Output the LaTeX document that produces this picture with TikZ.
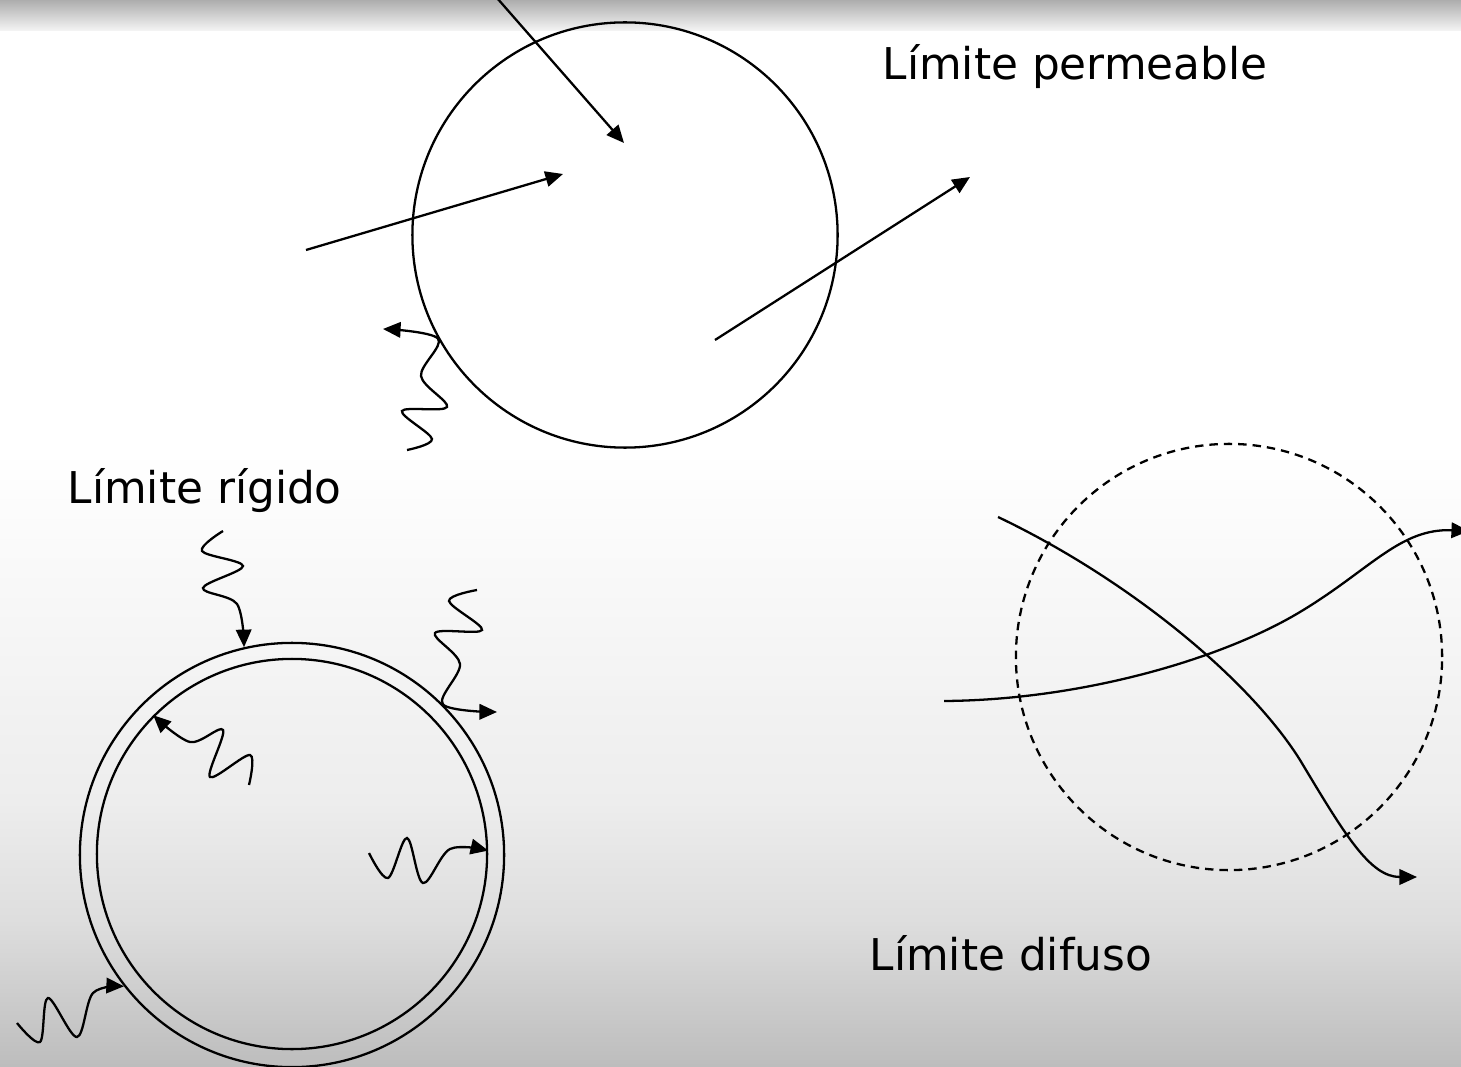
\documentclass[tikz,border=0pt]{standalone}
\usepackage{fontspec}
\setmainfont{DejaVu Sans}
\usepackage{tikz}
\usetikzlibrary{positioning,calc,arrows.meta}
\definecolor{bandgray}{gray}{0.68}
\definecolor{lowgray}{gray}{0.74}
\tikzset{BOUNDARY/.style={circle,draw,line width=0.65pt,inner sep=0pt}}
\tikzset{DIFFUSE/.style={BOUNDARY,dash pattern=on 2.4pt off 1.7pt}}
\tikzset{ARROW/.style={line width=0.65pt,-{Triangle[length=5pt,width=4.4pt]}}}
\tikzset{WAVE/.style={ARROW,smooth,tension=0.55}}
\tikzset{LABEL/.style={anchor=base west,inner sep=0pt,font=\fontsize{12.45pt}{14pt}\selectfont}}

\begin{document}
\begin{tikzpicture}[x=0.01cm,y=-0.01cm]

\useasboundingbox (0,0) rectangle (1461,1067);
\shade[top color=bandgray,bottom color=white!96!black] (0,0) rectangle (1461,31);
\shade[top color=white,bottom color=white!93!black] (0,450) rectangle (1461,800);
\shade[top color=white!93!black,bottom color=white!87!black] (0,800) rectangle (1461,920);
\shade[top color=white!87!black,bottom color=lowgray] (0,920) rectangle (1461,1067);

% permeable
\node[BOUNDARY, minimum size=4.25cm] (n_perm) at (625,235) {};
\node[LABEL] (n_perm_label) at (882,80) {Límite permeable};

\coordinate (c_in1_a) at (497,-2);
\coordinate (c_in1_b) at (624,143);
\draw[ARROW] (c_in1_a) -- (c_in1_b);

\coordinate (c_in2_a) at (306,250);
\coordinate (c_in2_b) at (563,174);
\draw[ARROW] (c_in2_a) -- (c_in2_b);

\coordinate (c_out_a) at (715,340);
\coordinate (c_out_b) at (970,177);
\draw[ARROW] (c_out_a) -- (c_out_b);

\draw[WAVE] plot coordinates {(407,450) (432,439) (402,411) (447,407) (421,376) (n_perm.209) (383,329)};

% rigid
\node[BOUNDARY, minimum size=4.24cm] (n_rigid_out) at (292,855) {};
\node[BOUNDARY, minimum size=3.9cm] (n_rigid_in) at (292,854) {};
\node[LABEL] (n_rigid_label) at (67,503) {Límite rígido};

\draw[WAVE] plot coordinates {(223,531) (202,551) (243,566) (203,588) (237,604) (n_rigid_out.103)};
\draw[WAVE] plot coordinates {(477,590) (449,601) (482,630) (435,633) (460,664) (n_rigid_out.45) (497,712)};
\draw[WAVE] plot coordinates {(249,785) (250,755) (210,777) (223,730) (190,742) (n_rigid_in.135)};
\draw[WAVE] plot coordinates {(369,853) (388,878) (407,838) (423,883) (450,849) (n_rigid_in.1)};
\draw[WAVE] plot coordinates {(17,1023) (40,1042) (48,998) (77,1037) (93,993) (n_rigid_out.218)};

% diffuse
\node[DIFFUSE, minimum size=4.26cm] (n_diff) at (1229,657) {};
\node[LABEL] (n_diff_label) at (869,970) {Límite difuso};

\coordinate (c_crossA_a) at (998,517);
\coordinate (c_crossA_m) at (1300,760);
\coordinate (c_crossA_b) at (1417,877);
\draw[ARROW] (c_crossA_a) .. controls (1130,580) and (1250,680) .. (c_crossA_m)
  .. controls (1345,835) and (1370,877) .. (c_crossA_b);

\coordinate (c_crossB_a) at (944,701);
\coordinate (c_crossB_m) at (1300,612);
\coordinate (c_crossB_b) at (1469,531);
\draw[ARROW] (c_crossB_a) .. controls (1080,700) and (1220,660) .. (c_crossB_m)
  .. controls (1370,570) and (1400,528) .. (c_crossB_b);

\end{tikzpicture}
\end{document}
